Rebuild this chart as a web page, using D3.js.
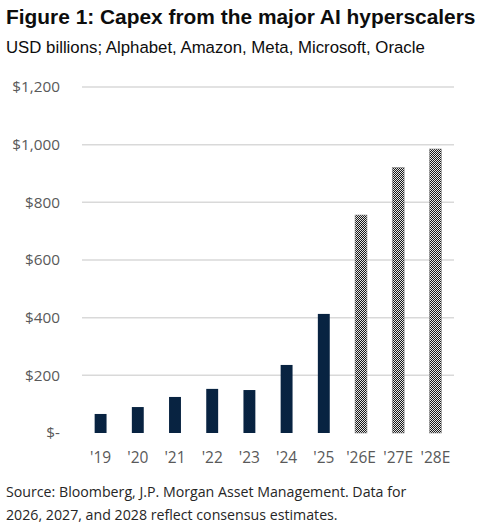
<!DOCTYPE html>
<html>
<head>
<meta charset="utf-8">
<script src="https://cdn.jsdelivr.net/npm/d3@7"></script>
<style>
  body { margin: 0; background: #fff; }
  svg { display: block; }
</style>
</head>
<body>
<div id="chart"></div>
<script>
// chart data
var years = ["'19", "'20", "'21", "'22", "'23", "'24", "'25", "'26E", "'27E", "'28E"]
var capex = [66, 90, 125, 153, 149, 236, 413, 756, 921, 985]
var estimate = [false, false, false, false, false, false, false, true, true, true]
var yTicks = [0, 200, 400, 600, 800, 1000, 1200]

var W = 484, H = 531
var margin = {top: 87, right: 30, bottom: 98, left: 82},
    width = W - margin.left - margin.right,
    height = H - margin.top - margin.bottom
var bodyFont = "'Open Sans', 'Noto Sans', sans-serif"

var svg = d3.select("#chart")
  .append("svg")
    .attr("width", W)
    .attr("height", H)

// title + subtitle
svg.append("text")
  .attr("x", 6).attr("y", 24)
  .style("font-family", "'Liberation Sans', Arial, sans-serif")
  .style("font-weight", "bold")
  .style("font-size", "20.9px")
  .style("fill", "#0d0d0d")
  .text("Figure 1: Capex from the major AI hyperscalers")

svg.append("text")
  .attr("x", 6).attr("y", 53)
  .style("font-family", "'Liberation Sans', Arial, sans-serif")
  .style("font-size", "16.8px")
  .style("fill", "#0d0d0d")
  .text("USD billions; Alphabet, Amazon, Meta, Microsoft, Oracle")

var g = svg.append("g")
  .attr("transform", "translate(" + margin.left + "," + margin.top + ")")

var x = d3.scaleBand()
  .domain(years)
  .range([0, width])
  .paddingInner(0.68)
  .paddingOuter(0.34)

var y = d3.scaleLinear()
  .domain([0, 1200])
  .range([height, 0])

// checker pattern for the estimate bars
var defs = svg.append("defs")
var pat = defs.append("pattern")
  .attr("id", "checker")
  .attr("patternUnits", "userSpaceOnUse")
  .attr("width", 2).attr("height", 2)
pat.append("rect").attr("width", 2).attr("height", 2).attr("fill", "#e6e6e6")
pat.append("rect").attr("width", 1).attr("height", 1).attr("fill", "#1a1a1a")
pat.append("rect").attr("x", 1).attr("y", 1).attr("width", 1).attr("height", 1).attr("fill", "#1a1a1a")

// gridlines (not at zero)
g.selectAll(".grid")
  .data(yTicks.filter(function(d) { return d > 0 }))
  .enter()
  .append("line")
    .attr("x1", 0)
    .attr("x2", width)
    .attr("y1", function(d) { return y(d) })
    .attr("y2", function(d) { return y(d) })
    .style("stroke", "#d9d9d9")
    .style("stroke-width", "1.5px")

// y axis labels
var yAxis = g.append("g")
  .attr("transform", "translate(-19,0)")
  .call(d3.axisLeft(y).tickValues(yTicks).tickSize(0)
    .tickFormat(function(d) { return d === 0 ? "$-" : "$" + d3.format(",")(d) }))
yAxis.select(".domain").remove()
yAxis.selectAll("text")
  .style("font-family", bodyFont)
  .style("font-size", "15.3px")
  .style("fill", "#595959")

// bars
g.selectAll(".bar")
  .data(years)
  .enter()
  .append("rect")
    .attr("x", function(d) { return x(d) })
    .attr("y", function(d, i) { return y(capex[i]) })
    .attr("width", x.bandwidth())
    .attr("height", function(d, i) { return height - y(capex[i]) })
    .attr("fill", function(d, i) { return estimate[i] ? "url(#checker)" : "#082341" })
    .style("stroke", function(d, i) { return estimate[i] ? "#8c8c8c" : "none" })
    .style("stroke-width", "0.6px")

// x axis labels
var xAxis = g.append("g")
  .attr("transform", "translate(0," + height + ")")
  .call(d3.axisBottom(x).tickSize(0).tickPadding(19))
xAxis.select(".domain").remove()
xAxis.selectAll("text")
  .style("font-family", bodyFont)
  .style("font-size", "15.5px")
  .style("fill", "#595959")

// source note
var note = svg.append("text")
  .attr("x", 6)
  .style("font-family", bodyFont)
  .style("font-size", "14.2px")
  .style("fill", "#262626")
note.append("tspan").attr("x", 6).attr("y", 497)
  .text("Source: Bloomberg, J.P. Morgan Asset Management. Data for")
note.append("tspan").attr("x", 6).attr("y", 520)
  .text("2026, 2027, and 2028 reflect consensus estimates.")
</script>
</body>
</html>
